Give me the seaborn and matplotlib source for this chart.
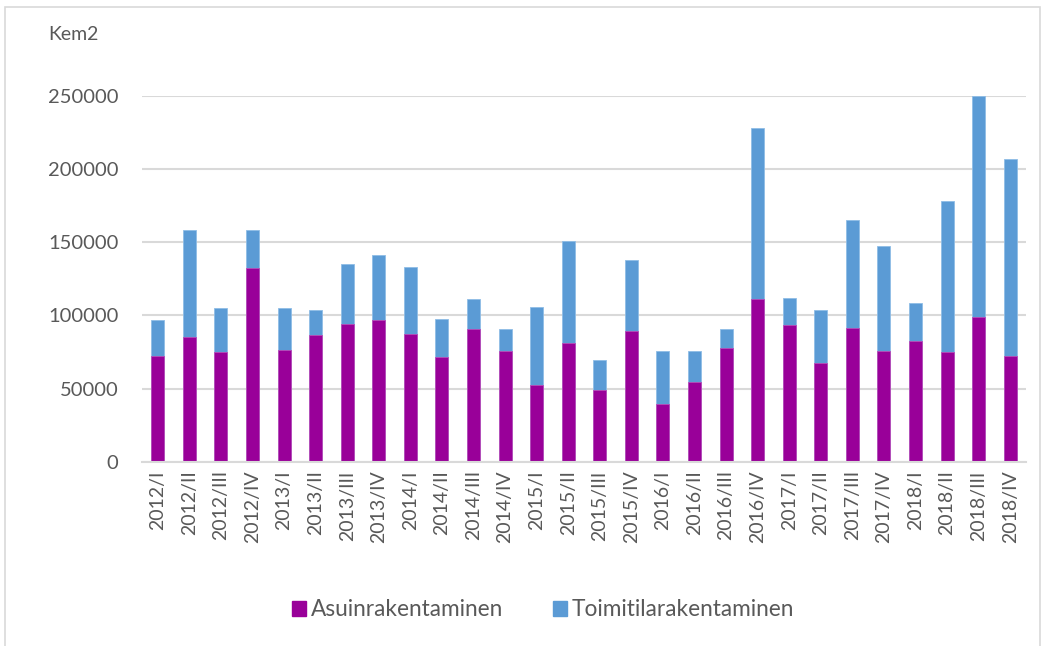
import matplotlib
matplotlib.use("Agg")
import matplotlib.pyplot as plt
import seaborn as sns
import pandas as pd
from matplotlib.patches import Rectangle, Patch

quarters = ["2012/I", "2012/II", "2012/III", "2012/IV",
            "2013/I", "2013/II", "2013/III", "2013/IV",
            "2014/I", "2014/II", "2014/III", "2014/IV",
            "2015/I", "2015/II", "2015/III", "2015/IV",
            "2016/I", "2016/II", "2016/III", "2016/IV",
            "2017/I", "2017/II", "2017/III", "2017/IV",
            "2018/I", "2018/II", "2018/III", "2018/IV"]

asuin = [72300, 85500, 74800, 132300, 76600, 86400, 94300, 97100,
         87300, 71400, 90700, 75700, 52700, 80900, 49100, 89100,
         39500, 54500, 77500, 111200, 93400, 67700, 91600, 75700,
         82700, 74800, 98600, 72000]

toimitila = [24500, 72500, 30000, 25700, 28200, 17500, 40700, 44100,
             45900, 26300, 20200, 15000, 53000, 70000, 20200, 48400,
             36200, 21200, 13200, 116600, 18400, 36200, 73200, 71600,
             25700, 103400, 151400, 134400]

label_res = "Asuinrakentaminen"
label_com = "Toimitilarakentaminen"
c_res = "#990099"
c_com = "#5B9BD5"
txt = "#595959"

df = pd.DataFrame({"q": quarters, "res": asuin, "com": toimitila})
df["total"] = df["res"] + df["com"]

sns.set_theme(style="white")
plt.rcParams["font.family"] = ["Lato", "DejaVu Sans"]

fig = plt.figure(figsize=(10.48, 6.46), dpi=100)
ax = fig.add_axes([142/1048, 1 - 462/646, (1026-142)/1048, (462-95.5)/646])

sns.barplot(data=df, x="q", y="total", color=c_com, width=0.41, ax=ax,
            saturation=1, edgecolor="#8fbde6", linewidth=0.6)
sns.barplot(data=df, x="q", y="res", color=c_res, width=0.41, ax=ax,
            saturation=1, edgecolor="#b84db8", linewidth=0.6)

ax.set_ylim(0, 250000)
ax.set_xlim(-0.5, len(quarters) - 0.5)
ax.set_yticks(range(0, 250001, 50000))
ax.yaxis.grid(True, color="#D9D9D9", linewidth=1.5)
ax.set_axisbelow(True)
for s in ["top", "right", "left"]:
    ax.spines[s].set_visible(False)
ax.spines["bottom"].set_color("#D9D9D9")
ax.spines["bottom"].set_linewidth(1.5)
ax.set_xlabel("")
ax.set_ylabel("")
ax.tick_params(axis="y", length=0, pad=17, labelsize=14.5, labelcolor=txt)
ax.tick_params(axis="x", length=0, pad=6, labelsize=14, labelcolor=txt, rotation=90)

fig.text(48/1048, 1 - 35/646, "Kem2", fontsize=14, color=txt, va="center", ha="left")

handles = [Patch(facecolor=c_res, edgecolor=c_res, label=label_res),
           Patch(facecolor=c_com, edgecolor=c_com, label=label_com)]
fig.legend(handles=handles, loc="center", bbox_to_anchor=(543/1048, 1 - 610/646),
           ncol=2, frameon=False, fontsize=16.3, labelcolor=txt,
           handlelength=0.62, handleheight=0.62, handletextpad=0.2, columnspacing=2.2)

fig.patches.append(Rectangle((5/1048, -0.05), (1040-5)/1048, 1 - 7/646 + 0.05,
                             transform=fig.transFigure, fill=False,
                             edgecolor="#D9D9D9", linewidth=1.2))

fig.savefig("out.png", dpi=100, facecolor="white")
